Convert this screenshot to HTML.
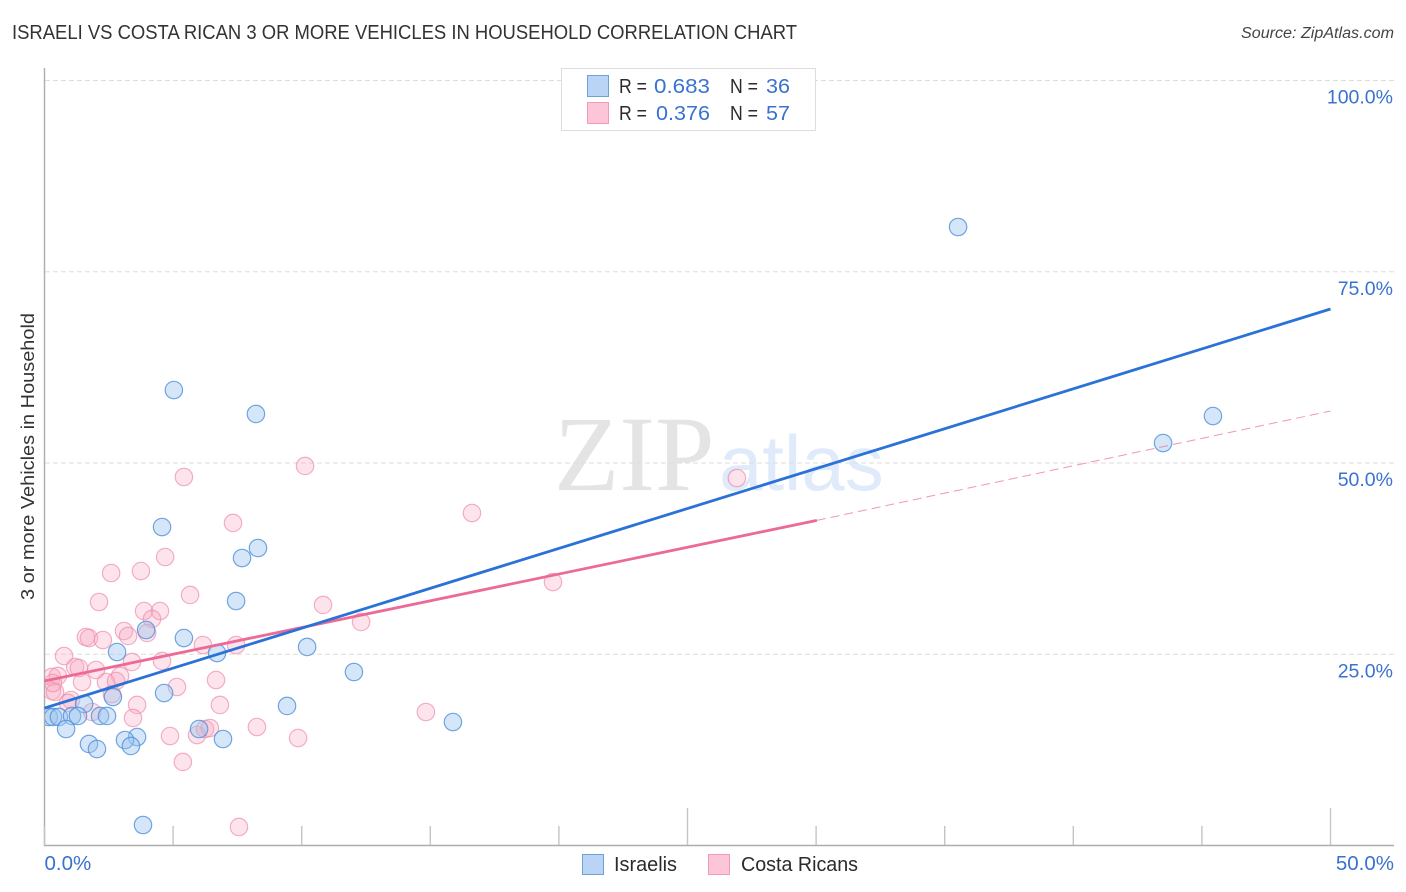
<!DOCTYPE html>
<html lang="en">
<head>
<meta charset="utf-8">
<title>Israeli vs Costa Rican 3 or More Vehicles in Household Correlation Chart</title>
<style>
html,body{margin:0;padding:0;background:#fff;}
svg{display:block;font-family:"Liberation Sans",sans-serif;}
</style>
</head>
<body>
<svg id="chart" width="1406" height="892" viewBox="0 0 1406 892" xmlns="http://www.w3.org/2000/svg">
  <rect x="0" y="0" width="1406" height="892" fill="#ffffff"/>
  <text x="12" y="39" font-size="20" fill="#333333" textLength="785" lengthAdjust="spacingAndGlyphs">ISRAELI VS COSTA RICAN 3 OR MORE VEHICLES IN HOUSEHOLD CORRELATION CHART</text>
  <text x="1241" y="38" font-size="15.5" font-style="italic" fill="#444" textLength="153" lengthAdjust="spacingAndGlyphs">Source: ZipAtlas.com</text>

  <g id="watermark">
    <text x="554" y="490" font-family="'Liberation Serif',serif" font-size="107" fill="#e4e4e4">ZIP</text>
    <text x="719" y="490" font-size="78" fill="#dfeafa">atlas</text>
  </g>

  <g id="grid"></g>
  <g id="axes"></g>
  <g id="points"></g>
  <g id="trends"></g>
  <g id="labels"></g>

  <text transform="translate(34,456.5) rotate(-90)" font-size="18.5" fill="#333" text-anchor="middle" textLength="287" lengthAdjust="spacingAndGlyphs">3 or more Vehicles in Household</text>

  <g>
    <rect x="561.5" y="68.5" width="254" height="62" fill="#ffffff" stroke="#dddddd" stroke-width="1"/>
    <rect x="587.5" y="75.5" width="21" height="21" fill="#b9d4f5" stroke="#6ea1d8"/>
    <rect x="587.5" y="102.5" width="21" height="21" fill="#fcc5d8" stroke="#f39ab8"/>
    <g font-size="20" fill="#2b2b2b">
      <text x="619" y="93" textLength="28" lengthAdjust="spacingAndGlyphs">R =</text>
      <text x="730" y="93" textLength="28" lengthAdjust="spacingAndGlyphs">N =</text>
      <text x="619" y="120" textLength="28" lengthAdjust="spacingAndGlyphs">R =</text>
      <text x="730" y="120" textLength="28" lengthAdjust="spacingAndGlyphs">N =</text>
    </g>
    <g font-size="20" fill="#3a72d0">
      <text x="654" y="93" textLength="56" lengthAdjust="spacingAndGlyphs">0.683</text>
      <text x="766" y="93" textLength="24" lengthAdjust="spacingAndGlyphs">36</text>
      <text x="656" y="120" textLength="54" lengthAdjust="spacingAndGlyphs">0.376</text>
      <text x="766" y="120" textLength="24" lengthAdjust="spacingAndGlyphs">57</text>
    </g>
  </g>

  <g>
    <rect x="582.5" y="854.5" width="21" height="20" fill="#b9d4f5" stroke="#6ea1d8"/>
    <text x="614" y="871" font-size="20" fill="#2b2b2b" textLength="63" lengthAdjust="spacingAndGlyphs">Israelis</text>
    <rect x="708.5" y="854.5" width="21" height="20" fill="#fcc5d8" stroke="#f39ab8"/>
    <text x="741" y="871" font-size="20" fill="#2b2b2b" textLength="117" lengthAdjust="spacingAndGlyphs">Costa Ricans</text>
  </g>
</svg>
<script>
const israeliX = [35.52,45.43,43.49,5.03,8.22,4.57,8.30,7.68,7.45,3.95,5.42,10.21,2.82,6.71,12.03,4.65,2.66,9.43,1.54,0.17,0.33,0.56,1.07,1.30,2.16,2.43,0.84,15.88,6.01,6.94,3.60,3.13,3.36,1.73,2.04,3.83];
const israeliY = [80.85,56.14,52.61,59.54,56.41,41.63,38.89,37.58,31.96,28.17,27.12,25.95,25.29,25.16,22.68,19.93,19.41,18.24,18.50,16.80,16.80,16.80,16.93,16.93,16.93,16.93,15.23,16.14,15.23,13.92,14.18,13.79,13.01,13.27,12.61,2.68];
const costaRicanX = [10.13,5.42,26.92,16.62,7.33,4.69,3.75,2.59,19.77,5.66,2.12,10.83,3.87,4.49,4.18,12.31,3.09,3.99,3.25,1.61,1.73,2.27,6.16,7.45,0.76,3.40,4.57,1.19,1.34,2.00,0.29,0.52,2.94,1.46,2.39,2.78,5.15,6.67,0.29,0.41,1.03,2.62,3.60,6.82,0.91,1.85,3.44,14.83,8.26,9.86,4.88,5.93,6.24,6.43,5.38,7.56,0.33];
const costaRicanY = [49.61,48.17,48.04,43.46,42.16,37.71,35.88,35.62,34.44,32.75,31.83,31.44,30.65,30.65,29.61,29.22,28.04,27.78,27.39,27.25,27.12,26.86,26.21,26.21,24.77,23.99,24.12,23.33,23.20,22.94,22.03,22.16,22.16,21.37,21.37,21.50,20.72,21.63,20.20,20.07,19.02,19.80,18.37,18.37,18.63,17.45,16.67,17.45,15.49,14.05,14.31,14.44,15.23,15.36,10.92,2.42,21.24];
const israeliTrendX = [0,50];
const israeliTrendY = [17.97,70.13];
const costaRicanTrendX = [0,30.03];
const costaRicanTrendY = [21.5,42.5];
const costaRicanExtendX = [30.03,50];
const costaRicanExtendY = [42.5,56.8];
const yTicks = [25,50,75,100];
const yTickLabels = ["25.0%","50.0%","75.0%","100.0%"];
const xTicks = [0,5,10,15,20,25,30,35,40,45,50];
const xMajorTicks = [25,50];
const xEndTicks = [0,50];
const xEndLabels = ["0.0%","50.0%"];

const NS = "http://www.w3.org/2000/svg";
function sx(v){ return 44.5 + v * 25.72; }
function sy(v){ return 845.5 - v * 7.65; }
function make(parent, tag, attrs){
  const el = document.createElementNS(NS, tag);
  for (const k in attrs) el.setAttribute(k, attrs[k]);
  parent.appendChild(el);
  return el;
}
const defs = make(document.getElementById("chart"), "defs", {});
const clip = make(defs, "clipPath", {id:"plot-clip"});
make(clip, "rect", {x:45, y:60, width:1350, height:785});

const grid = document.getElementById("grid");
yTicks.concat([]).forEach(function(t){
  const g = make(grid, "line", {x1:45, x2:1394, y1:sy(t), y2:sy(t), stroke:"#dedede", "stroke-width":1, "stroke-dasharray":"5 3"});
  
  
});

const axes = document.getElementById("axes");
const yAxis = make(axes, "line", {x1:44.5, x2:44.5, y1:68, y2:846, stroke:"#adadad", "stroke-width":1.4});


const xAxis = make(axes, "line", {x1:44, x2:1394, y1:845.5, y2:845.5, stroke:"#adadad", "stroke-width":1.4});


xTicks.forEach(function(t){
  const top = xMajorTicks.indexOf(t) >= 0 ? 808 : 826;
  const m = make(axes, "line", {x1:sx(t), x2:sx(t), y1:top, y2:845, stroke:"#c4c4c4", "stroke-width":1.4});
  
  
});

const points = document.getElementById("points");
points.setAttribute("clip-path", "url(#plot-clip)");
costaRicanX.forEach(function(x, i){
  const c = make(points, "circle", {cx:sx(x), cy:sy(costaRicanY[i]), r:8.7, fill:"#f8a8c0", "fill-opacity":0.32, stroke:"#ee8fae", "stroke-opacity":0.7, "stroke-width":1.2});
  
  
});
israeliX.forEach(function(x, i){
  const c = make(points, "circle", {cx:sx(x), cy:sy(israeliY[i]), r:8.7, fill:"#9cc4ee", "fill-opacity":0.42, stroke:"#4f90dc", "stroke-opacity":0.8, "stroke-width":1.2});
  
  
});

const trends = document.getElementById("trends");
const pinkExt = make(trends, "line", {x1:sx(costaRicanExtendX[0]), y1:sy(costaRicanExtendY[0]), x2:sx(costaRicanExtendX[1]), y2:sy(costaRicanExtendY[1]), stroke:"#ec6a96", "stroke-width":1, "stroke-opacity":0.7, "stroke-dasharray":"9 5"});


const pinkLine = make(trends, "line", {x1:sx(costaRicanTrendX[0]), y1:sy(costaRicanTrendY[0]), x2:sx(costaRicanTrendX[1]), y2:sy(costaRicanTrendY[1]), stroke:"#ec6a96", "stroke-width":2.8});


const blueLine = make(trends, "line", {x1:sx(israeliTrendX[0]), y1:sy(israeliTrendY[0]), x2:sx(israeliTrendX[1]), y2:sy(israeliTrendY[1]), stroke:"#2a72d8", "stroke-width":2.8});



const labels = document.getElementById("labels");
yTicks.forEach(function(t, i){
  const l = make(labels, "text", {x:1393, y:sy(t) + 23, "font-size":19.5, fill:"#3a72d0", "text-anchor":"end"});
  l.textContent = yTickLabels[i];
  
  
});
xEndTicks.forEach(function(t, i){
  const isFirst = i === 0;
  const l = make(labels, "text", {x:isFirst ? sx(t) : 1394, y:870, "font-size":20.5, fill:"#3a72d0", "text-anchor":isFirst ? "start" : "end"});
  l.textContent = xEndLabels[i];
  
  
});
</script>
</body>
</html>
